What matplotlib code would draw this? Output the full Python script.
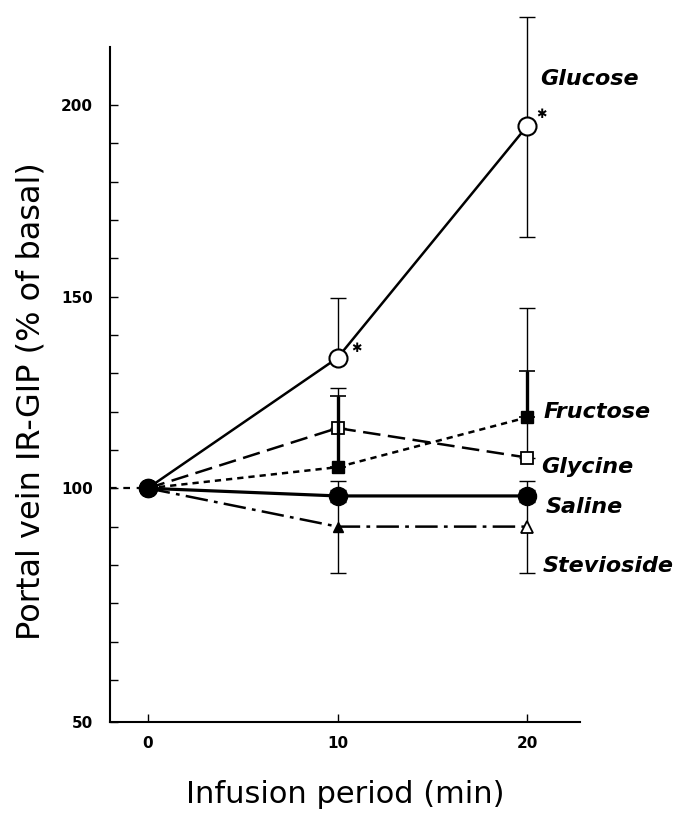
#!/usr/bin/env python3
"""Portal vein IR-GIP response during intraduodenal infusion."""

import matplotlib

matplotlib.use("Agg")
import matplotlib.pyplot as plt

time_min = [0, 10, 20]

glucose = [100, 134, 194.5]
glucose_err_lo = [0, 0, 29]
glucose_err_hi = [0, 15.5, 28.5]

fructose = [100, 105.5, 118.5]
fructose_err_hi = [0, 18.5, 12]

glycine = [100, 115.7, 108]
glycine_err_hi = [0, 10.5, 39]

saline = [100, 98, 98]
saline_err = [0, 1.5, 1.5]

stevioside = [100, 90, 90]
stevioside_err = [0, 12, 12]

y_tick_values = [39, 100, 150, 200]
y_tick_labels = ["50", "100", "150", "200"]
y_minor_ticks = [50, 60, 70, 80, 90, 110, 120, 130, 140, 160, 170, 180, 190]
x_tick_values = [0, 10, 20]

series_labels = ["Glucose", "Fructose", "Glycine", "Saline", "Stevioside"]

XMIN, XMAX = -2.0, 22.8
YMIN, YMAX = 39, 215


def main():
    fig = plt.figure(figsize=(6.82, 8.16), dpi=100)
    ax = fig.add_axes([0.161, 0.115, 0.69, 0.827])

    err_kw = dict(ecolor="black", elinewidth=1.0, capsize=6, capthick=1.0)

    # reference dashes left of time zero
    ax.plot([XMIN, time_min[0]], [saline[0], saline[0]], color="black",
            lw=1.6, ls=(0, (3, 3)), clip_on=False)

    # stevioside (dash-dot)
    ax.errorbar(time_min, stevioside, yerr=stevioside_err, fmt="none", **err_kw)
    ax.plot(time_min, stevioside, color="black", lw=1.8, ls=(0, (9, 2.5, 1.5, 2.5)))
    ax.plot(time_min[1:2], stevioside[1:2], marker="^", ms=7, color="black", ls="none")
    ax.plot(time_min[2:], stevioside[2:], marker="^", ms=8, mfc="white", mec="black",
            mew=1.3, ls="none")

    # glycine (long dashes, open squares)
    ax.errorbar(time_min, glycine, yerr=[[0, 0, 0], glycine_err_hi], fmt="none", **err_kw)
    ax.plot(time_min, glycine, color="black", lw=1.8, ls=(0, (7, 3)))
    ax.plot(time_min[1:], glycine[1:], marker="s", ms=9, mfc="white", mec="black",
            mew=1.3, ls="none")

    # fructose (short dashes, filled squares, heavy bars)
    ax.errorbar(time_min, fructose, yerr=[[0, 0, 0], fructose_err_hi], fmt="none",
                ecolor="black", elinewidth=2.4, capsize=6, capthick=1.2)
    ax.plot(time_min, fructose, color="black", lw=1.8, ls=(0, (2.5, 2)))
    ax.plot(time_min[1:], fructose[1:], marker="s", ms=9, color="black", ls="none")

    # saline (solid, filled circles)
    ax.errorbar(time_min, saline, yerr=saline_err, fmt="none", **err_kw)
    ax.plot(time_min, saline, color="black", lw=2.3, marker="o", ms=13)

    # glucose (solid, open circles)
    ax.errorbar(time_min, glucose, yerr=[glucose_err_lo, glucose_err_hi], fmt="none",
                clip_on=False, **err_kw)
    ax.plot(time_min, glucose, color="black", lw=1.8)
    ax.plot(time_min[1:], glucose[1:], marker="o", ms=13, mfc="white", mec="black",
            mew=1.5, ls="none", clip_on=False)

    # common start point
    ax.plot(time_min[:1], saline[:1], marker="o", ms=13, color="black", ls="none")

    # significance marks
    for xv, yv, dx, dy in [(time_min[1], glucose[1], 14, 7), (time_min[2], glucose[2], 10, 8)]:
        ax.annotate("\u2731", (xv, yv), xytext=(dx, dy), textcoords="offset points",
                    ha="center", va="center", fontsize=9, fontweight="bold")

    label_offsets = [(9, 34), (12, 4), (10, -7), (13, -8), (11, -28)]
    label_values = [glucose[2], fructose[2], glycine[2], saline[2], stevioside[2]]
    for name, yv, (dx, dy) in zip(series_labels, label_values, label_offsets):
        ax.annotate(name, (time_min[2], yv), xytext=(dx, dy), textcoords="offset points",
                    ha="left", va="center", fontsize=16, fontweight="bold",
                    fontstyle="italic", annotation_clip=False)

    ax.set_xlim(XMIN, XMAX)
    ax.set_ylim(YMIN, YMAX)
    ax.set_xticks(x_tick_values)
    ax.set_xticklabels([str(v) for v in x_tick_values])
    ax.set_yticks(y_tick_values)
    ax.set_yticklabels(y_tick_labels)
    ax.set_yticks(y_minor_ticks, minor=True)
    ax.tick_params(axis="both", which="both", direction="in", length=6, width=1.0)
    ax.tick_params(axis="y", which="major", pad=12, labelsize=11)
    ax.tick_params(axis="x", which="major", pad=10, labelsize=11)
    for lab in ax.get_xticklabels() + ax.get_yticklabels():
        lab.set_fontweight("bold")

    for side in ("top", "right"):
        ax.spines[side].set_visible(False)
    for side in ("left", "bottom"):
        ax.spines[side].set_linewidth(1.5)

    ax.set_xlabel("Infusion period (min)", fontsize=22)
    ax.xaxis.set_label_coords(0.5, -0.086)
    ax.set_ylabel("Portal vein IR-GIP (% of basal)", fontsize=23)
    ax.yaxis.set_label_coords(-0.135, 0.475)

    fig.savefig("out.png", dpi=100)
    plt.close(fig)


if __name__ == "__main__":
    main()
